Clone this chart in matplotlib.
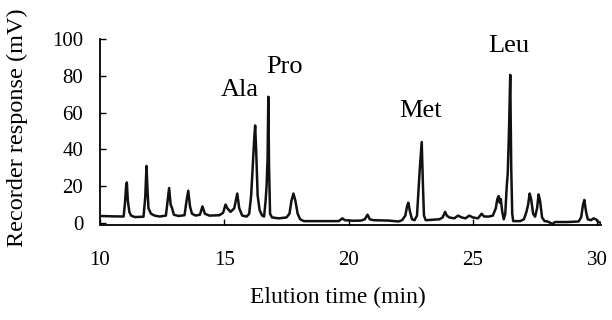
import numpy as np
import matplotlib
matplotlib.use("Agg")
import matplotlib.pyplot as plt

# elution time (min) and detector response (mV)
time = [10.00, 10.50, 10.95,
        11.00, 11.05, 11.08, 11.12, 11.18, 11.25, 11.40,
        11.75, 11.82, 11.87, 11.91, 11.95, 12.05, 12.20, 12.40,
        12.65, 12.72, 12.78, 12.84, 12.90, 12.97, 13.15,
        13.40, 13.48, 13.55, 13.62, 13.70, 13.85,
        14.02, 14.12, 14.22, 14.40, 14.80, 14.95,
        15.05, 15.12, 15.25, 15.40, 15.52, 15.60, 15.72, 15.90,
        16.00, 16.08, 16.14, 16.20, 16.24, 16.28, 16.34, 16.42, 16.52,
        16.60, 16.66, 16.70, 16.74, 16.77, 16.80, 16.84, 16.92, 17.20, 17.50,
        17.62, 17.70, 17.78, 17.86, 17.95, 18.05, 18.20,
        19.60, 19.75, 19.85, 20.20, 20.50, 20.65, 20.76, 20.85, 21.00, 21.60, 22.00, 22.15,
        22.28, 22.35, 22.40, 22.47, 22.55, 22.65,
        22.75, 22.82, 22.86, 22.94, 22.99, 23.03, 23.10, 23.40, 23.65,
        23.78, 23.88, 23.95, 24.05, 24.25, 24.40, 24.55, 24.70, 24.85, 25.00, 25.20, 25.35, 25.45, 25.65, 25.80,
        25.92, 25.98, 26.04, 26.08, 26.12, 26.18, 26.24,
        26.30, 26.36, 26.40, 26.45, 26.50, 26.54, 26.58, 26.62, 26.90, 27.05,
        27.15, 27.22, 27.28, 27.34, 27.42, 27.50, 27.58, 27.64, 27.70, 27.78, 27.88,
        28.00, 28.20, 28.30, 28.80, 29.25, 29.35, 29.43, 29.48, 29.55, 29.62, 29.75, 29.85, 29.95, 30.05, 30.15]
response = [3.8, 3.6, 3.5,
            10, 20, 22, 12, 6, 4, 3.2,
            3.4, 14, 31, 18, 8, 5, 4, 3.5,
            4, 12, 19, 10, 8, 4.5, 3.8,
            4.2, 12, 17.5, 9, 5, 4,
            4.5, 9, 5, 4, 4.2, 5.5,
            10, 8, 6, 8, 16, 8, 4, 3.5,
            5, 15, 30, 45, 53, 40, 15, 7, 4,
            3.5, 12, 20, 35, 68.6, 30, 5, 3, 2.5, 3,
            5, 12, 16, 12, 5, 2, 1,
            1, 2.5, 1.5, 1.2, 1.3, 2, 4.5, 2, 1.5, 1.3, 0.8, 1.5,
            4, 9, 11, 6, 2, 1.5,
            4, 20, 29, 44, 20, 4, 1.5, 1.8, 2,
            3, 6, 4, 3, 2.5, 4, 3, 2.5, 4, 3, 2.5, 5, 3.5, 3.5, 4,
            8, 13, 14.6, 11, 13, 6, 2,
            5, 20, 27, 50, 80.5, 30, 5, 1, 1, 2,
            6, 10, 16, 13, 5, 3.4, 8, 15.5, 12, 3, 1,
            0.8, -0.5, 0.5, 0.5, 0.8, 3, 10, 12.5, 6, 2, 1.5, 2.5, 2, 0.5, 0]

peak_names = ["Ala", "Pro", "Met", "Leu"]
label_time = [15.63, 17.44, 22.90, 26.45]
label_resp = [72.3, 84.8, 60.9, 96.2]

xticks = [10, 15, 20, 25, 30]
yticks = [0, 20, 40, 60, 80, 100]

plt.rcParams['font.family'] = ['Liberation Serif', 'DejaVu Serif']

fig = plt.figure(figsize=(6.12, 3.2), dpi=100)
ax = fig.add_axes([0.1634, 0.2975, 0.8186, 0.5806])

ax.plot(time, response, color='#111111', lw=1.8, solid_joinstyle='round')

for name, t, r in zip(peak_names, label_time, label_resp):
    ax.text(t, r, name, ha='center', va='center', fontsize=19)

ax.set_xlim(10, 30.15)
ax.set_ylim(-1, 100)
ax.set_xticks(xticks)
ax.set_yticks(yticks)
ax.tick_params(direction='in', length=4, width=1, labelsize=15)
ax.tick_params(axis='x', pad=19)
ax.tick_params(axis='y', pad=12)
ax.spines['top'].set_visible(False)
ax.spines['right'].set_visible(False)
ax.spines['left'].set_bounds(0, 100)
for s in ['left', 'bottom']:
    ax.spines[s].set_linewidth(1.3)

fig.text(17 / 612, 1 - 128 / 320, 'Recorder response (mV)', rotation=90,
         ha='center', va='center', fontsize=17.5)
fig.text(338 / 612, 1 - 297 / 320, 'Elution time (min)', ha='center', va='center', fontsize=17)

fig.savefig("out.png", dpi=100)
